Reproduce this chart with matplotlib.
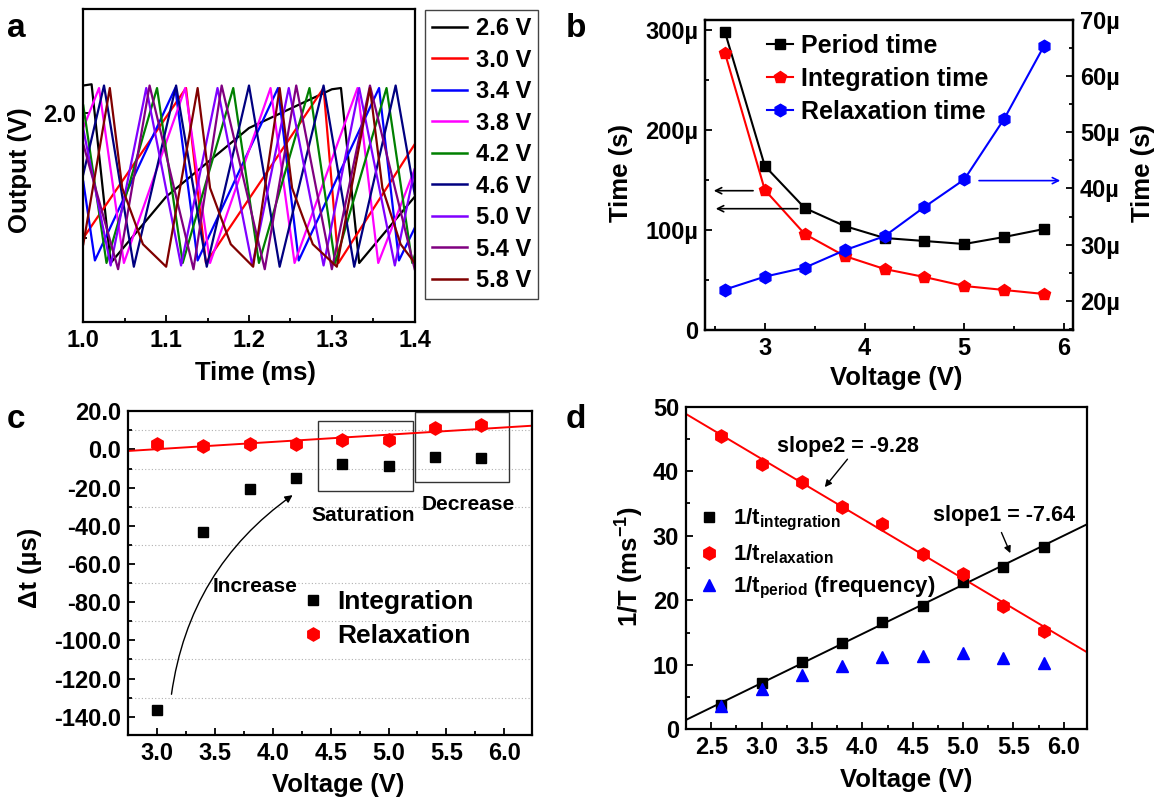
import matplotlib

matplotlib.use("Agg")
import matplotlib.pyplot as plt
import numpy as np
from matplotlib.patches import FancyArrowPatch, Rectangle
from matplotlib.ticker import FixedLocator, FormatStrFormatter, FuncFormatter, MultipleLocator

# ---------------- panel a: oscilloscope traces (time in ms, output in V) ----------------
TRACE_LABELS = ["2.6 V", "3.0 V", "3.4 V", "3.8 V", "4.2 V", "4.6 V", "5.0 V", "5.4 V", "5.8 V"]
TRACE_COLORS = ["#000000", "#ff0000", "#0000ff", "#ff00ff", "#008000",
                "#000080", "#8000ff", "#800080", "#800000"]

T_26 = [1.000, 1.010, 1.033, 1.100, 1.200, 1.300, 1.311, 1.333, 1.400]
V_26 = [2.22, 2.23, 0.80, 1.33, 1.88, 2.19, 2.20, 0.80, 1.33]
T_30 = [1.000, 1.124, 1.148, 1.290, 1.308, 1.400]
V_30 = [1.00, 2.20, 0.80, 2.20, 0.80, 1.75]
T_34 = [1.000, 1.014, 1.111, 1.138, 1.235, 1.260, 1.357, 1.381, 1.400]
V_34 = [1.45, 0.82, 2.20, 0.82, 2.20, 0.82, 2.20, 0.82, 1.08]
T_38 = [1.000, 1.019, 1.049, 1.123, 1.153, 1.226, 1.255, 1.331, 1.356, 1.400]
V_38 = [1.88, 2.20, 0.80, 2.20, 0.80, 2.20, 0.80, 2.20, 0.80, 1.55]
T_42 = [1.000, 1.028, 1.089, 1.120, 1.181, 1.212, 1.273, 1.304, 1.366, 1.397, 1.400]
V_42 = [2.06, 0.80, 2.20, 0.80, 2.20, 0.80, 2.20, 0.80, 2.20, 0.80, 0.86]
T_46 = [1.000, 1.025, 1.061, 1.112, 1.149, 1.200, 1.237, 1.290, 1.327, 1.377, 1.400]
V_46 = [1.51, 2.22, 0.77, 2.22, 0.77, 2.22, 0.77, 2.22, 0.77, 2.22, 1.35]
T_50 = [1.000, 1.033, 1.076, 1.118, 1.162, 1.204, 1.248, 1.290, 1.333, 1.376, 1.400]
V_50 = [1.87, 0.78, 2.20, 0.78, 2.20, 0.78, 2.20, 0.78, 2.20, 0.78, 1.55]
T_54 = [1.000, 1.042, 1.080, 1.133, 1.167, 1.219, 1.257, 1.300, 1.346, 1.400]
V_54 = [1.75, 0.75, 2.22, 0.75, 2.22, 0.75, 2.22, 0.75, 2.22, 0.75]
T_58 = [1.000, 1.032, 1.047, 1.072, 1.100, 1.138, 1.153, 1.178, 1.205,
        1.237, 1.252, 1.277, 1.306, 1.346, 1.361, 1.383, 1.400]
V_58 = [0.95, 2.20, 1.40, 0.95, 0.77, 2.20, 1.40, 0.95, 0.77,
        2.20, 1.40, 0.95, 0.77, 2.20, 1.40, 0.95, 0.80]
TRACE_T = [T_26, T_30, T_34, T_38, T_42, T_46, T_50, T_54, T_58]
TRACE_V = [V_26, V_30, V_34, V_38, V_42, V_46, V_50, V_54, V_58]

# ---------------- panel b: times vs voltage (µs) ----------------
VOLTAGE_B = [2.6, 3.0, 3.4, 3.8, 4.2, 4.6, 5.0, 5.4, 5.8]
PERIOD_US = [298, 164, 122, 104, 92, 89, 86, 93, 101]
INTEGRATION_US = [277, 140, 96, 74, 61, 53, 44, 40, 36]
RELAXATION_US = [22.0, 24.3, 25.9, 29.0, 31.5, 36.7, 41.6, 52.4, 65.4]

# ---------------- panel c: delta t (µs) ----------------
VOLTAGE_C = [3.0, 3.4, 3.8, 4.2, 4.6, 5.0, 5.4, 5.8]
DELTA_INTEGRATION = [-136.5, -43.5, -20.9, -14.8, -7.8, -8.7, -4.0, -4.5]
DELTA_RELAXATION = [2.6, 1.7, 2.9, 2.6, 5.2, 4.7, 11.0, 13.0]

# ---------------- panel d: inverse times (1/ms) ----------------
VOLTAGE_D = [2.6, 3.0, 3.4, 3.8, 4.2, 4.6, 5.0, 5.4, 5.8]
INV_INTEGRATION = [3.8, 7.2, 10.4, 13.3, 16.6, 19.1, 22.9, 25.2, 28.3]
INV_RELAXATION = [45.5, 41.1, 38.4, 34.5, 31.8, 27.2, 24.1, 19.1, 15.3]
INV_PERIOD = [3.6, 6.2, 8.4, 9.8, 11.2, 11.4, 11.9, 11.1, 10.2]

W, H = 1155, 799
TICK_SIZE = 17
LABEL_SIZE = 18.5
LETTER_SIZE = 24
SPINE_W = 1.6

plt.rcParams["font.family"] = ["Liberation Sans", "DejaVu Sans"]
plt.rcParams["font.weight"] = "bold"
plt.rcParams["axes.labelweight"] = "bold"
plt.rcParams["axes.unicode_minus"] = False
plt.rcParams["mathtext.fontset"] = "custom"
plt.rcParams["mathtext.rm"] = "Liberation Sans:bold"
plt.rcParams["mathtext.it"] = "Liberation Sans:bold"
plt.rcParams["mathtext.bf"] = "Liberation Sans:bold"

fig = plt.figure(figsize=(W / 100, H / 100), dpi=100)


def add_axes_px(left, top, right, bottom):
    return fig.add_axes([left / W, 1 - bottom / H, (right - left) / W, (bottom - top) / H])


def fig_xy(px, py):
    return px / W, 1 - py / H


def style_axes(ax, right_ticks=False):
    for spine in ax.spines.values():
        spine.set_linewidth(SPINE_W)
    ax.tick_params(which="both", direction="in", labelsize=TICK_SIZE, width=1.3, pad=5)
    ax.tick_params(which="major", length=5)
    ax.tick_params(which="minor", length=3)
    if not right_ticks:
        ax.tick_params(which="both", right=False, top=False)


def place_labels(ax, xlabel, xpos, ylabel, ypos):
    ax.set_xlabel(xlabel, fontsize=LABEL_SIZE, va="center")
    ax.xaxis.set_label_coords(*fig_xy(*xpos), transform=fig.transFigure)
    ax.set_ylabel(ylabel, fontsize=LABEL_SIZE, va="center")
    ax.yaxis.set_label_coords(*fig_xy(*ypos), transform=fig.transFigure)


# ---------------- panel a ----------------
ax_a = add_axes_px(83.3, 9.3, 414.7, 321.7)
for t, v, color, label in zip(TRACE_T, TRACE_V, TRACE_COLORS, TRACE_LABELS):
    ax_a.plot(t, v, color=color, lw=1.6, label=label)
ax_a.set_xlim(1.0, 1.4)
ax_a.set_ylim(0.33, 2.83)
ax_a.xaxis.set_major_locator(MultipleLocator(0.1))
ax_a.xaxis.set_minor_locator(MultipleLocator(0.05))
ax_a.xaxis.set_major_formatter(FormatStrFormatter("%.1f"))
ax_a.yaxis.set_major_locator(FixedLocator([2.0]))
ax_a.yaxis.set_minor_locator(FixedLocator([1.0]))
ax_a.yaxis.set_major_formatter(FormatStrFormatter("%.1f"))
style_axes(ax_a)
place_labels(ax_a, "Time (ms)", (255.8, 373), "Output (V)", (20.3, 170))
leg_a = ax_a.legend(loc="upper left", bbox_to_anchor=fig_xy(425, 10), bbox_transform=fig.transFigure,
                    borderaxespad=0, fontsize=17, handlelength=1.5, handletextpad=0.35,
                    labelspacing=0.36, borderpad=0.3, fancybox=False, edgecolor="#444444",
                    framealpha=1)
leg_a.get_frame().set_linewidth(1.0)
for line in leg_a.get_lines():
    line.set_linewidth(1.8)

# ---------------- panel b ----------------
ax_b = add_axes_px(705, 20, 1073, 330)
ax_r = ax_b.twinx()
ax_b.plot(VOLTAGE_B, PERIOD_US, color="black", marker="s", ms=7, lw=1.5, label="Period time")
ax_b.plot(VOLTAGE_B, INTEGRATION_US, color="#ff0000", marker="p", ms=9, lw=1.5, label="Integration time")
ax_r.plot(VOLTAGE_B, RELAXATION_US, color="#0000ff", marker="h", ms=9, lw=1.5, label="Relaxation time")
ax_b.set_xlim(2.4, 6.09)
ax_b.set_ylim(0, 310)
ax_r.set_ylim(14.8, 70)
ax_b.xaxis.set_major_locator(MultipleLocator(1))
ax_b.xaxis.set_minor_locator(MultipleLocator(0.5))
ax_b.yaxis.set_major_locator(MultipleLocator(100))
ax_b.yaxis.set_minor_locator(MultipleLocator(50))
ax_r.yaxis.set_major_locator(MultipleLocator(10))
ax_r.yaxis.set_minor_locator(MultipleLocator(5))
ax_b.yaxis.set_major_formatter(FuncFormatter(lambda v, _: "0" if v == 0 else f"{v:.0f}µ"))
ax_r.yaxis.set_major_formatter(FuncFormatter(lambda v, _: f"{v:.0f}µ"))
style_axes(ax_b)
style_axes(ax_r, right_ticks=True)
ax_r.tick_params(which="both", left=False, top=False)
place_labels(ax_b, "Voltage (V)", (895.9, 378), "Time (s)", (620.6, 173))
ax_r.set_ylabel("Time (s)", fontsize=LABEL_SIZE, va="center", rotation=90)
ax_r.yaxis.set_label_coords(*fig_xy(1143, 173), transform=fig.transFigure)
handles_b = ax_b.get_lines() + ax_r.get_lines()
ax_b.legend(handles=handles_b, loc="upper left", bbox_to_anchor=fig_xy(767, 34),
            bbox_transform=fig.transFigure, borderaxespad=0, borderpad=0, frameon=False,
            fontsize=18, handlelength=1.05, handletextpad=0.3, labelspacing=0.36)
arrow_kw = dict(arrowstyle="->", lw=1.2, mutation_scale=11)
ax_b.annotate("", xy=(2.46, 139.3), xytext=(2.91, 139.3), arrowprops=dict(color="black", **arrow_kw))
ax_b.annotate("", xy=(2.48, 121.3), xytext=(3.36, 121.3), arrowprops=dict(color="black", **arrow_kw))
ax_r.annotate("", xy=(5.99, 41.4), xytext=(5.12, 41.4), arrowprops=dict(color="#0000ff", **arrow_kw))

# ---------------- panel c ----------------
ax_c = add_axes_px(128.3, 410.7, 532, 735)
ax_c.set_xlim(2.75, 6.24)
ax_c.set_ylim(-149.6, 20.3)
ax_c.xaxis.set_major_locator(MultipleLocator(0.5))
ax_c.xaxis.set_minor_locator(MultipleLocator(0.25))
ax_c.yaxis.set_major_locator(MultipleLocator(20))
ax_c.yaxis.set_minor_locator(MultipleLocator(10))
ax_c.xaxis.set_major_formatter(FormatStrFormatter("%.1f"))
ax_c.yaxis.set_major_formatter(FormatStrFormatter("%.1f"))
ax_c.yaxis.grid(True, which="minor", ls=(0, (1, 2)), color="#b0b0b0", lw=0.8)
ax_c.set_axisbelow(True)
fit_c = np.polyfit(VOLTAGE_C, DELTA_RELAXATION, 1)
x_fit_c = np.array(ax_c.get_xlim())
ax_c.plot(x_fit_c, np.polyval(fit_c, x_fit_c), color="#ff0000", lw=1.4)
ax_c.plot(VOLTAGE_C, DELTA_INTEGRATION, ls="none", marker="s", ms=7.5, color="black", label="Integration")
ax_c.plot(VOLTAGE_C, DELTA_RELAXATION, ls="none", marker="h", ms=9.5, color="#ff0000", label="Relaxation")
ax_c.add_patch(Rectangle((4.393, -21.8), 0.814, 36.6, fill=False, ec="#333333", lw=1.0))
ax_c.add_patch(Rectangle((5.23, -16.9), 0.815, 36.4, fill=False, ec="#333333", lw=1.0))
ax_c.text(4.78, -34.4, "Saturation", ha="center", va="center", fontsize=15)
ax_c.text(5.69, -28.7, "Decrease", ha="center", va="center", fontsize=15)
ax_c.text(3.85, -71.8, "Increase", ha="center", va="center", fontsize=15)
ax_c.add_patch(FancyArrowPatch((3.12, -129.7), (4.19, -23.1), connectionstyle="arc3,rad=-0.22",
                               arrowstyle="-|>", mutation_scale=11, lw=1.0, color="black"))
style_axes(ax_c)
place_labels(ax_c, "Voltage (V)", (338.6, 785), "Δt (µs)", (29.5, 568))
ax_c.legend(loc="upper left", bbox_to_anchor=fig_xy(302, 590), bbox_transform=fig.transFigure,
            borderaxespad=0, borderpad=0, frameon=False, fontsize=19, handlelength=0.8,
            handletextpad=0.55, labelspacing=0.38)

# ---------------- panel d ----------------
ax_d = add_axes_px(686, 406.7, 1087, 729.3)
ax_d.set_xlim(2.25, 6.23)
ax_d.set_ylim(0, 50)
x_fit_d = np.array(ax_d.get_xlim())
fit_int = np.polyfit(VOLTAGE_D, INV_INTEGRATION, 1)
fit_rel = np.polyfit(VOLTAGE_D, INV_RELAXATION, 1)
ax_d.plot(x_fit_d, np.polyval(fit_int, x_fit_d), color="black", lw=1.4)
ax_d.plot(x_fit_d, np.polyval(fit_rel, x_fit_d), color="#ff0000", lw=1.4)
ax_d.plot(VOLTAGE_D, INV_INTEGRATION, ls="none", marker="s", ms=7.5, color="black",
          label="1/t$_{integration}$")
ax_d.plot(VOLTAGE_D, INV_RELAXATION, ls="none", marker="h", ms=9.5, color="#ff0000",
          label="1/t$_{relaxation}$")
ax_d.plot(VOLTAGE_D, INV_PERIOD, ls="none", marker="^", ms=8.5, color="#0000ff",
          label="1/t$_{period}$ (frequency)")
ax_d.xaxis.set_major_locator(MultipleLocator(0.5))
ax_d.xaxis.set_minor_locator(MultipleLocator(0.25))
ax_d.yaxis.set_major_locator(MultipleLocator(10))
ax_d.yaxis.set_minor_locator(MultipleLocator(5))
ax_d.xaxis.set_major_formatter(FormatStrFormatter("%.1f"))
ax_d.yaxis.set_major_formatter(FormatStrFormatter("%d"))
style_axes(ax_d)
place_labels(ax_d, "Voltage (V)", (906.6, 780), "1/T (ms$^{-1}$)", (629.8, 566.7))
ax_d.text(3.853, 43.8, "slope2 = -9.28", ha="center", va="center", fontsize=15.5)
ax_d.text(5.408, 33.2, "slope1 = -7.64", ha="center", va="center", fontsize=15.5)
ax_d.annotate("", xy=(3.61, 37.2), xytext=(3.87, 42.2),
              arrowprops=dict(arrowstyle="-|>", lw=1.0, color="black", mutation_scale=10))
ax_d.annotate("", xy=(5.48, 26.9), xytext=(5.37, 30.9),
              arrowprops=dict(arrowstyle="-|>", lw=1.0, color="black", mutation_scale=10))
ax_d.legend(loc="upper left", bbox_to_anchor=fig_xy(700, 507), bbox_transform=fig.transFigure,
            borderaxespad=0, borderpad=0, frameon=False, fontsize=16, handlelength=0.8,
            handletextpad=0.7, labelspacing=0.42)

# ---------------- panel letters ----------------
for letter, (px, py) in zip("abcd", [(16.6, 36.7), (576, 36.7), (15.8, 428), (576, 428)]):
    fig.text(*fig_xy(px, py), letter, fontsize=LETTER_SIZE, ha="center", va="baseline")

fig.savefig("out.png", dpi=100)
